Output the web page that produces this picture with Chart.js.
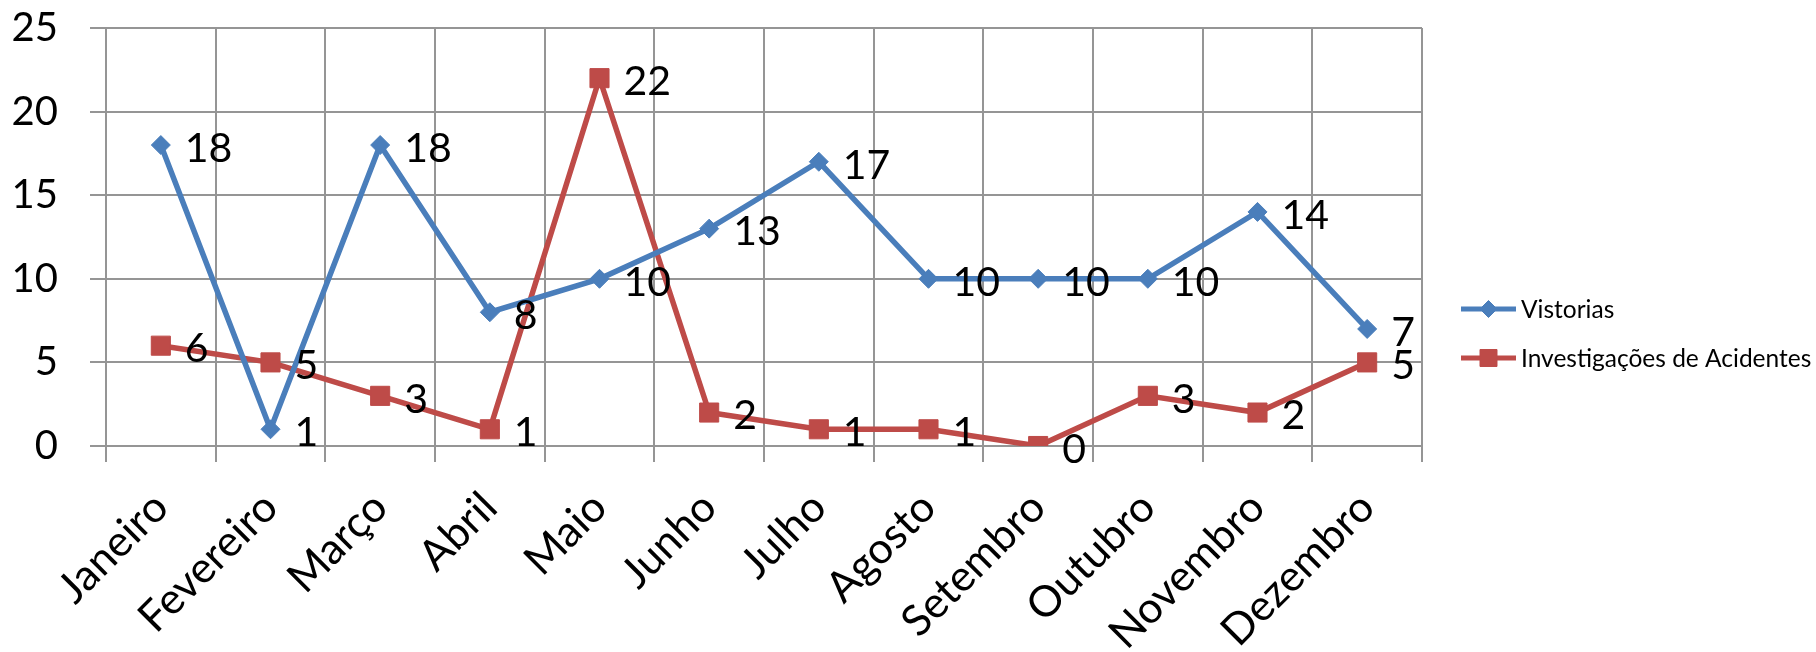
<!DOCTYPE html>
<html>
<head>
<meta charset="utf-8">
<script src="https://cdn.jsdelivr.net/npm/chart.js@4/dist/chart.umd.min.js"></script>
<style>
  html, body { margin: 0; padding: 0; background: #fff; }
  #wrap { width: 1816px; height: 652px; }
</style>
</head>
<body>
<div id="wrap"><canvas id="chart" width="1816" height="652"></canvas></div>
<script>
const months = ['Janeiro', 'Fevereiro', 'Março', 'Abril', 'Maio', 'Junho', 'Julho', 'Agosto', 'Setembro', 'Outubro', 'Novembro', 'Dezembro'];
const vistorias = [18, 1, 18, 8, 10, 13, 17, 10, 10, 10, 14, 7];
const investigacoes = [6, 5, 3, 1, 22, 2, 1, 1, 0, 3, 2, 5];
const seriesNames = ['Vistorias', 'Investigações de Acidentes'];

const BLUE = '#4A7EBB';
const RED = '#BE4B48';
const GRID = '#959595';
const FONT = 'Lato';

Chart.defaults.font.family = FONT;
Chart.defaults.color = '#000';

// value labels to the right of each point (Excel style)
const valueLabels = {
  id: 'valueLabels',
  afterDatasetsDraw(chart) {
    const ctx = chart.ctx;
    const size = 41;
    ctx.save();
    ctx.font = size + 'px ' + FONT;
    ctx.fillStyle = '#000';
    ctx.textAlign = 'left';
    ctx.textBaseline = 'alphabetic';
    chart.data.datasets.forEach((ds, i) => {
      const meta = chart.getDatasetMeta(i);
      meta.data.forEach((pt, j) => {
        ctx.fillText(String(ds.data[j]), pt.x + 24, pt.y + size * 0.36 + 2);
      });
    });
    ctx.restore();
  }
};

// legend on the right: line with marker + text
const sideLegend = {
  id: 'sideLegend',
  afterDraw(chart) {
    const ctx = chart.ctx;
    const x0 = 1461, x1 = 1516, rows = [309, 358];
    const markerRadius = [8.5, 12];
    ctx.save();
    chart.data.datasets.forEach((ds, i) => {
      const y = rows[i];
      ctx.strokeStyle = ds.borderColor;
      ctx.lineWidth = 5;
      ctx.beginPath();
      ctx.moveTo(x0, y);
      ctx.lineTo(x1, y);
      ctx.stroke();
      ctx.fillStyle = ds.pointBackgroundColor;
      ctx.strokeStyle = ds.pointBorderColor;
      ctx.lineWidth = 1;
      Chart.helpers.drawPoint(ctx, {
        pointStyle: ds.pointStyle,
        radius: markerRadius[i],
        borderWidth: 1
      }, (x0 + x1) / 2, y);
      ctx.fillStyle = '#000';
      ctx.font = '24.5px ' + FONT;
      ctx.textAlign = 'left';
      ctx.textBaseline = 'alphabetic';
      ctx.fillText(ds.label, x1 + 5, y + 24.5 * 0.36);
    });
    ctx.restore();
  }
};

new Chart(document.getElementById('chart'), {
  type: 'line',
  data: {
    labels: months,
    datasets: [
      {
        label: seriesNames[0],
        data: vistorias,
        borderColor: BLUE,
        backgroundColor: BLUE,
        pointBackgroundColor: BLUE,
        pointBorderColor: BLUE,
        borderWidth: 5.5,
        pointStyle: 'rectRot',
        pointRadius: 9.5,
        pointBorderWidth: 1,
        tension: 0
      },
      {
        label: seriesNames[1],
        data: investigacoes,
        borderColor: RED,
        backgroundColor: RED,
        pointBackgroundColor: RED,
        pointBorderColor: RED,
        borderWidth: 5.5,
        pointStyle: 'rect',
        pointRadius: 13.5,
        pointBorderWidth: 1,
        tension: 0
      }
    ]
  },
  options: {
    responsive: false,
    animation: false,
    events: [],
    layout: { padding: { top: 28, right: 394, left: 0, bottom: 0 } },
    plugins: {
      legend: { display: false },
      tooltip: { enabled: false }
    },
    scales: {
      x: {
        offset: true,
        grid: { offset: true, color: GRID, lineWidth: 2, tickLength: 16 },
        border: { color: GRID, width: 2 },
        ticks: {
          font: { size: 43 },
          color: '#000',
          minRotation: 45,
          maxRotation: 45,
          padding: 20,
          autoSkip: false
        },
        afterFit(scale) {
          scale.height = 206;
          scale.paddingLeft = 0;
          scale.paddingRight = 0;
        }
      },
      y: {
        min: 0,
        max: 25,
        grid: { color: GRID, lineWidth: 2, tickLength: 16 },
        border: { color: GRID, width: 2 },
        ticks: {
          stepSize: 5,
          font: { size: 40 },
          color: '#000',
          padding: 32
        },
        afterFit(scale) {
          scale.width = 106;
          scale.paddingTop = 0;
          scale.paddingBottom = 0;
        }
      }
    }
  },
  plugins: [valueLabels, sideLegend]
});
</script>
</body>
</html>
